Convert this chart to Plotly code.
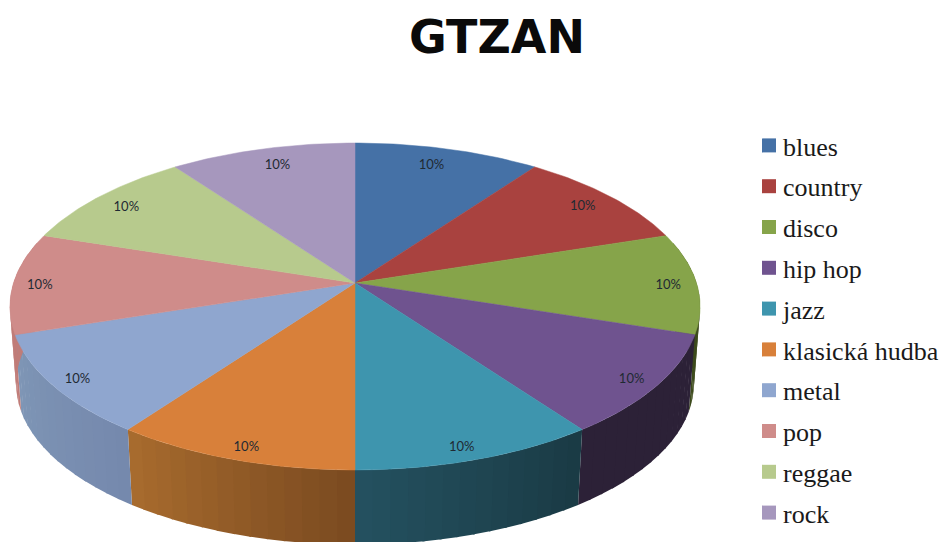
import numpy as np
import plotly.graph_objects as go

# --- data ---
TITLE = "GTZAN"
GENRES = ["blues", "country", "disco", "hip hop", "jazz",
          "klasická hudba", "metal", "pop", "reggae", "rock"]
SHARES = [10, 10, 10, 10, 10, 10, 10, 10, 10, 10]

# --- styles ---
TOP_COLORS = ["#4571a6", "#a9423f", "#86a44a", "#6f538f", "#3e95ae",
              "#d8803a", "#8fa6cf", "#cf8c8a", "#b7ca8d", "#a697bd"]
SIDE_START = ["#4571a6", "#a9423f", "#46521f", "#2c2137", "#1a3a44",
              "#7a4a20", "#7589ad", "#c07c78", "#b7ca8d", "#a697bd"]
SIDE_END = ["#4571a6", "#a9423f", "#3c4a1c", "#2c2137", "#245160",
            "#a96c2e", "#7f96b6", "#c07c78", "#b7ca8d", "#a697bd"]
LABEL_R = [0.84, 0.89, 0.92, 0.92, 0.91, 0.91, 0.92, 0.92, 0.89, 0.84]
LABEL_DX = [-3, -1, -1, 1, -3, 1, -2, -1, 0, 2]
LABEL_DY = [-3, 2, 3, 3, 6, 6, 3, 3, 3, -3]

# projected pie geometry (page pixels)
HUB_X, HUB_Y = 355.0, 283.0
RX, RY, TILT = 341.5, 160.1, 0.1438
DROP, BASE_SCALE = 78.0, 0.982


def project(a, r=1.0, base=False):
    a = np.asarray(a, dtype=float)
    d = 1 + TILT * r * np.cos(a)
    x = RX * r * np.sin(a) / d
    y = -RY * r * np.cos(a) / d
    if base:
        return HUB_X + BASE_SCALE * x, HUB_Y + DROP + BASE_SCALE * y
    return HUB_X + x, HUB_Y + y


def hex_rgb(c):
    return np.array([int(c[i:i + 2], 16) for i in (1, 3, 5)], dtype=float)


def mix(c1, c2, t):
    v = hex_rgb(c1) * (1 - t) + hex_rgb(c2) * t
    return "rgb(%d,%d,%d)" % tuple(v.round())


fracs = np.array(SHARES, dtype=float) / sum(SHARES)
edges = np.concatenate([[0], np.cumsum(fracs)]) * 2 * np.pi

fig = go.Figure()

# side wall, built in thin strips to give the shaded gradient
for i in range(len(GENRES)):
    a0, a1 = edges[i], edges[i + 1]
    lo, hi = max(a0, np.radians(75)), min(a1, np.radians(285))
    if hi <= lo:
        continue
    n = 14
    cuts = np.linspace(lo, hi, n + 1)
    for j in range(n):
        seg = np.linspace(cuts[j], cuts[j + 1] + (0.006 if j < n - 1 else 0), 6)
        tx, ty = project(seg)
        bx, by = project(seg, base=True)
        fig.add_trace(go.Scatter(
            x=np.concatenate([tx, bx[::-1]]), y=np.concatenate([ty, by[::-1]]),
            mode="lines", fill="toself", line=dict(width=0),
            fillcolor=mix(SIDE_START[i], SIDE_END[i], (j + 0.5) / n),
            showlegend=False, hoverinfo="skip"))

# top faces
for i, name in enumerate(GENRES):
    seg = np.linspace(edges[i], edges[i + 1], 50)
    rx, ry = project(seg)
    fig.add_trace(go.Scatter(
        x=np.concatenate([[HUB_X], rx, [HUB_X]]),
        y=np.concatenate([[HUB_Y], ry, [HUB_Y]]),
        mode="lines", fill="toself", line=dict(width=0.5, color=TOP_COLORS[i]),
        fillcolor=TOP_COLORS[i], name=name, legendgroup=name,
        showlegend=False, hoverinfo="name"))

# percentage labels
mids = (edges[:-1] + edges[1:]) / 2
lx, ly = project(mids, np.array(LABEL_R))
fig.add_trace(go.Scatter(
    x=lx + np.array(LABEL_DX), y=ly + np.array(LABEL_DY), mode="text",
    text=["%d%%" % round(f * 100) for f in fracs],
    textposition="middle center",
    textfont=dict(family="Lato", size=13, color="#1f2a33"),
    showlegend=False, hoverinfo="skip"))

# legend entries
for i, name in enumerate(GENRES):
    fig.add_trace(go.Scatter(
        x=[None], y=[None], mode="markers", name=name, legendgroup=name,
        marker=dict(symbol="square", size=14, color=TOP_COLORS[i])))

fig.update_layout(
    width=942, height=542,
    margin=dict(l=0, r=0, t=0, b=0, autoexpand=False),
    paper_bgcolor="white", plot_bgcolor="white",
    title=dict(text="<b>%s</b>" % TITLE, x=497 / 942, xanchor="center",
               y=1 - 37 / 542, yanchor="middle",
               font=dict(family="DejaVu Sans", size=46, color="#0a0a0a")),
    xaxis=dict(range=[0, 942], visible=False, fixedrange=True),
    yaxis=dict(range=[542, 0], visible=False, fixedrange=True),
    legend=dict(x=743 / 942, xanchor="left", y=1 - 122 / 542, yanchor="top",
                font=dict(family="Liberation Serif", size=26, color="#1a1a1a"),
                tracegroupgap=4,
                itemclick=False, itemdoubleclick=False,
                bgcolor="rgba(0,0,0,0)", borderwidth=0),
)

POST = """
document.body.style.margin='0';
document.body.style.overflow='hidden';
document.querySelectorAll('.legendsymbols').forEach(function(e){
  e.setAttribute('transform','translate(6,0)');
});
"""
fig.write_html("out.html", config={"displayModeBar": False}, post_script=POST)
